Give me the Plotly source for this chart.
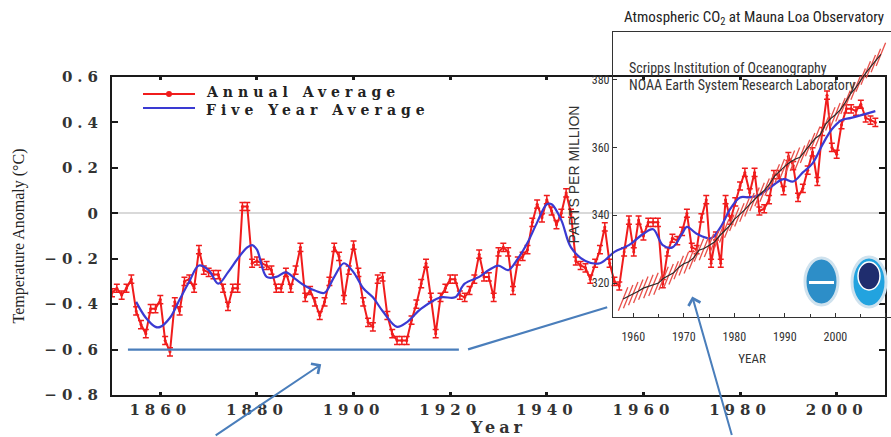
import plotly.graph_objects as go

# ---------------- data ----------------
years = list(range(1850, 2009))
annual_avg = [
    -0.35, -0.33, -0.36, -0.33, -0.29, -0.43, -0.49, -0.53, -0.42, -0.42,   # 1850s
    -0.38, -0.56, -0.61, -0.39, -0.43, -0.30, -0.29, -0.33, -0.16, -0.25,   # 1860s
    -0.26, -0.27, -0.27, -0.33, -0.41, -0.33, -0.33, 0.03, 0.03, -0.22,     # 1870s
    -0.21, -0.22, -0.23, -0.25, -0.33, -0.33, -0.26, -0.33, -0.25, -0.15,   # 1880s
    -0.37, -0.34, -0.39, -0.45, -0.39, -0.30, -0.15, -0.19, -0.38, -0.25,   # 1890s
    -0.14, -0.26, -0.39, -0.48, -0.50, -0.29, -0.28, -0.45, -0.53, -0.56,   # 1900s
    -0.56, -0.56, -0.47, -0.40, -0.31, -0.22, -0.37, -0.53, -0.37, -0.33,   # 1910s
    -0.29, -0.29, -0.36, -0.37, -0.34, -0.29, -0.18, -0.28, -0.28, -0.37,   # 1920s
    -0.17, -0.15, -0.17, -0.34, -0.21, -0.19, -0.16, -0.04, 0.04, -0.02,    # 1930s
    0.06, 0.01, -0.05, 0.00, 0.09, 0.00, -0.21, -0.23, -0.24, -0.29,        # 1940s
    -0.22, -0.16, -0.06, -0.22, -0.30, -0.32, -0.17, -0.03, -0.17, -0.03,   # 1950s
    -0.10, -0.04, -0.04, -0.04, -0.31, -0.17, -0.11, -0.12, -0.08, 0.00,    # 1960s
    -0.15, -0.16, -0.02, 0.06, -0.22, -0.10, -0.22, 0.06, -0.03, 0.05,      # 1970s
    0.12, 0.18, 0.09, 0.18, 0.01, 0.02, 0.06, 0.17, 0.17, 0.10,             # 1980s
    0.25, 0.21, 0.07, 0.11, 0.19, 0.27, 0.14, 0.36, 0.52, 0.29,             # 1990s
    0.26, 0.39, 0.46, 0.46, 0.45, 0.48, 0.42, 0.41, 0.40,                   # 2000s
]

five_year_years = [1855, 1857, 1859, 1860, 1862, 1864, 1866, 1868, 1870, 1872,
                   1874, 1876, 1878, 1879, 1880, 1882, 1884, 1886, 1888, 1890,
                   1892, 1894, 1896, 1898, 1900, 1902, 1904, 1906, 1909, 1911,
                   1914, 1918, 1921, 1923, 1926, 1928, 1930, 1932, 1934, 1936,
                   1938, 1940, 1941, 1943, 1945, 1948, 1951, 1954, 1957, 1960,
                   1962, 1964, 1966, 1968, 1969, 1971, 1974, 1976, 1978, 1980,
                   1982, 1984, 1986, 1989, 1991, 1993, 1995, 1997, 1999, 2001,
                   2003, 2008]
five_year_avg = [-0.39, -0.46, -0.50, -0.50, -0.46, -0.38, -0.30, -0.23, -0.25, -0.31,
                 -0.26, -0.20, -0.15, -0.14, -0.16, -0.28, -0.28, -0.26, -0.29, -0.32,
                 -0.34, -0.35, -0.28, -0.22, -0.26, -0.33, -0.37, -0.43, -0.50, -0.48,
                 -0.42, -0.37, -0.37, -0.31, -0.28, -0.25, -0.23, -0.25, -0.20, -0.13,
                 -0.04, 0.04, 0.04, -0.03, -0.15, -0.21, -0.22, -0.17, -0.14, -0.09,
                 -0.07, -0.14, -0.15, -0.09, -0.06, -0.09, -0.11, -0.06, 0.02, 0.07,
                 0.07, 0.08, 0.11, 0.15, 0.14, 0.18, 0.22, 0.30, 0.37, 0.41,
                 0.42, 0.45]

co2_years = list(range(1958, 2010))
co2_ppm = [315.3, 316.0, 316.9, 317.6, 318.5, 319.0, 319.6, 320.0, 321.4, 322.2,
           323.0, 324.6, 325.7, 326.3, 327.5, 329.7, 330.2, 331.1, 332.0, 333.8,
           335.4, 336.8, 338.8, 340.1, 341.5, 343.1, 344.7, 346.1, 347.4, 349.2,
           351.6, 353.1, 354.4, 355.6, 356.5, 357.1, 358.8, 360.8, 362.6, 363.7,
           366.7, 368.4, 369.6, 371.1, 373.3, 375.8, 377.5, 379.8, 381.9, 383.8,
           385.6, 387.4]

temp_ticks = [-0.8, -0.6, -0.4, -0.2, 0, 0.2, 0.4, 0.6]
temp_labels = ["\u22120.8", "\u22120.6", "\u22120.4", "\u22120.2", "0", "0.2", "0.4", "0.6"]
year_ticks = [1860, 1880, 1900, 1920, 1940, 1960, 1980, 2000]
year_labels = ["1860", "1880", "1900", "1920", "1940", "1960", "1980", "2000"]
co2_year_ticks = [1960, 1970, 1980, 1990, 2000, 2010]
co2_ticks = [320, 340, 360, 380]

# ---------------- styling ----------------
RED = "#f01c1c"
BLUE = "#3a3ad2"
ARROW = "#4a7ebb"
SERIF = "DejaVu Serif, Liberation Serif, serif"
SERIF_B = dict(family=SERIF, size=15, color="#333333", weight="bold")
NARROW = "Roboto Condensed, Liberation Sans Narrow, Arial Narrow, Liberation Sans, sans-serif"
SANS = "Liberation Sans, Arial, sans-serif"


def wide(s, sp=5):
    return '<span style="letter-spacing:%dpx">%s</span>' % (sp, s)


W, H = 891, 437
ML, MR, MT, MB = 112, 0, 32, 42
PW, PH = W - ML - MR, H - MT - MB


def px(xp):
    return (xp - ML) / PW


def py(yp):
    return (H - MB - yp) / PH


fig = go.Figure()

fig.add_trace(go.Scatter(
    x=years, y=annual_avg, name="Annual Average", mode="lines+markers",
    line=dict(color=RED, width=2), marker=dict(size=3, color=RED),
    error_y=dict(type="constant", value=0.018, color=RED, thickness=1.5, width=3),
    xaxis="x", yaxis="y"))
fig.add_trace(go.Scatter(
    x=five_year_years, y=five_year_avg, name="Five Year Average", mode="lines",
    line=dict(color=BLUE, width=2.2, shape="spline", smoothing=1.0),
    xaxis="x", yaxis="y"))

fig.add_trace(go.Scatter(
    x=co2_years, y=co2_ppm, name="CO2 monthly", mode="markers",
    marker=dict(symbol="line-ns", size=18, angle=22, color="#e8504a",
                line=dict(color="#e8504a", width=1.3)),
    xaxis="x2", yaxis="y2"))
fig.add_trace(go.Scatter(
    x=co2_years, y=co2_ppm, name="CO2 annual", mode="lines",
    line=dict(color="#2a2a2a", width=1.2),
    xaxis="x2", yaxis="y2"))

main_dom_x = [0, (885 - ML) / PW]
main_dom_y = [0, (H - MB - 77) / PH]

fig.update_layout(
    width=W, height=H, margin=dict(l=ML, r=MR, t=MT, b=MB, autoexpand=False),
    paper_bgcolor="white", plot_bgcolor="rgba(0,0,0,0)", showlegend=False,
    xaxis=dict(domain=main_dom_x, range=[1850, 2010], anchor="y", automargin=False,
               tickmode="array", tickvals=year_ticks, ticktext=[wide(t) for t in year_labels],
               showline=True, linecolor="#1a1a1a", linewidth=2, mirror="ticks",
               ticks="inside", ticklen=3, tickwidth=3, tickcolor="#1a1a1a",
               showgrid=False, zeroline=False, tickfont=SERIF_B, ticklabelstandoff=0,
               title=dict(text=wide("Year", 4), font=dict(family=SERIF, size=16,
                                                        color="#333333", weight="bold"),
                          standoff=0)),
    yaxis=dict(domain=main_dom_y, range=[-0.8, 0.6], anchor="x", automargin=False,
               tickmode="array", tickvals=temp_ticks, ticktext=[wide(t) for t in temp_labels],
               showline=True, linecolor="#1a1a1a", linewidth=2, mirror="ticks",
               ticks="inside", ticklen=6, tickwidth=1.5, tickcolor="#1a1a1a",
               showgrid=False, zeroline=True, zerolinecolor="#d9d9d9", zerolinewidth=1.5,
               tickfont=SERIF_B, ticklabelstandoff=4,
               title=dict(text="Temperature Anomaly (\u00b0C)",
                          font=dict(family="Liberation Serif, serif", size=16, color="#222222"),
                          standoff=16)),
    xaxis2=dict(domain=[px(613), 1.0], range=[1956, 2011], anchor="y2", automargin=False,
                tickmode="array", tickvals=co2_year_ticks,
                showline=True, linecolor="#333333", linewidth=1.2, mirror=True,
                ticks="inside", ticklen=4, tickcolor="#333333",
                minor=dict(dtick=5, tick0=1955, ticks="inside", ticklen=3, tickcolor="#333333"),
                showgrid=False, zeroline=False, ticklabelstandoff=8,
                tickfont=dict(family=NARROW, size=12, color="#333333"),
                title=dict(text="YEAR", font=dict(family=NARROW, size=13, color="#333333"),
                           standoff=11)),
    yaxis2=dict(domain=[py(317), 1.0], range=[310, 394], anchor="x2", automargin=False,
                tickmode="array", tickvals=co2_ticks,
                showline=True, linecolor="#333333", linewidth=1.2, mirror=False,
                ticks="inside", ticklen=4, tickcolor="#333333",
                showgrid=False, zeroline=False,
                tickfont=dict(family=NARROW, size=12, color="#333333"),
                title=dict(text="PARTS PER MILLION", font=dict(family=SANS, size=14, color="#333333"),
                           standoff=8)),
)

annotations = [
    dict(text="Atmospheric CO<sub>2</sub> at Mauna Loa Observatory", x=px(754), y=py(18),
         xref="paper", yref="paper", xanchor="center", yanchor="middle", showarrow=False,
         font=dict(family=NARROW, size=15, color="#222222")),
    dict(text="Scripps Institution of Oceanography", x=px(627), y=py(68),
         xref="paper", yref="paper", xanchor="left", yanchor="middle", showarrow=False,
         font=dict(family=NARROW, size=14, color="#333333")),
    dict(text="NOAA Earth System Research Laboratory", x=px(627), y=py(85),
         xref="paper", yref="paper", xanchor="left", yanchor="middle", showarrow=False,
         font=dict(family=NARROW, size=14, color="#333333")),
    dict(text=wide("Annual Average", 5), x=px(205), y=py(101),
         xref="paper", yref="paper", xanchor="left", yanchor="bottom", showarrow=False,
         borderpad=0, font=dict(family=SERIF, size=14, color="#222222", weight="bold")),
    dict(text=wide("Five Year Average", 5), x=px(205), y=py(101),
         xref="paper", yref="paper", xanchor="left", yanchor="top", showarrow=False,
         borderpad=0, font=dict(family=SERIF, size=14, color="#222222", weight="bold")),
    dict(text="", x=1893.3, y=-0.665, xref="x", yref="y", showarrow=True,
         ax=-107, ay=72, arrowhead=4, arrowsize=1.2, arrowwidth=2, arrowcolor=ARROW),
    dict(text="", x=1970.1, y=-0.366, xref="x", yref="y", showarrow=True,
         ax=40, ay=140, arrowhead=4, arrowsize=1.2, arrowwidth=2, arrowcolor=ARROW),
]
fig.update_layout(annotations=annotations)

shapes = [
    dict(type="line", xref="x", yref="y", x0=1853.3, x1=1921.8, y0=-0.6, y1=-0.6,
         line=dict(color=ARROW, width=2.2)),
    dict(type="line", xref="x", yref="y", x0=1923.7, x1=1952.5, y0=-0.599, y1=-0.414,
         line=dict(color=ARROW, width=2.2)),
    # legend samples
    dict(type="line", xref="paper", yref="paper", x0=px(143), x1=px(195), y0=py(94), y1=py(94),
         line=dict(color=RED, width=2)),
    dict(type="circle", xref="paper", yref="paper", x0=px(166), x1=px(172), y0=py(97), y1=py(91),
         fillcolor=RED, line=dict(color=RED, width=0)),
    dict(type="line", xref="paper", yref="paper", x0=px(143), x1=px(195), y0=py(108), y1=py(108),
         line=dict(color=BLUE, width=2)),
    # logos
    dict(type="circle", xref="paper", yref="paper", x0=px(805), x1=px(838), y0=py(305), y1=py(258),
         fillcolor="#2d8ec8", line=dict(color="#cfe2ee", width=3)),
    dict(type="rect", xref="paper", yref="paper", x0=px(809), x1=px(834), y0=py(284), y1=py(281),
         fillcolor="white", line=dict(width=0)),
    dict(type="circle", xref="paper", yref="paper", x0=px(852), x1=px(886), y0=py(307), y1=py(257),
         fillcolor="#22a3df", line=dict(color="#cfe2ee", width=3)),
    dict(type="circle", xref="paper", yref="paper", x0=px(858), x1=px(880), y0=py(290), y1=py(262),
         fillcolor="#1f2d6e", line=dict(color="white", width=1.5)),
]
fig.update_layout(shapes=shapes)

fig.write_html("out.html", config={"displayModeBar": False},
               post_script="document.body.style.margin='0';document.body.style.overflow='hidden';")
